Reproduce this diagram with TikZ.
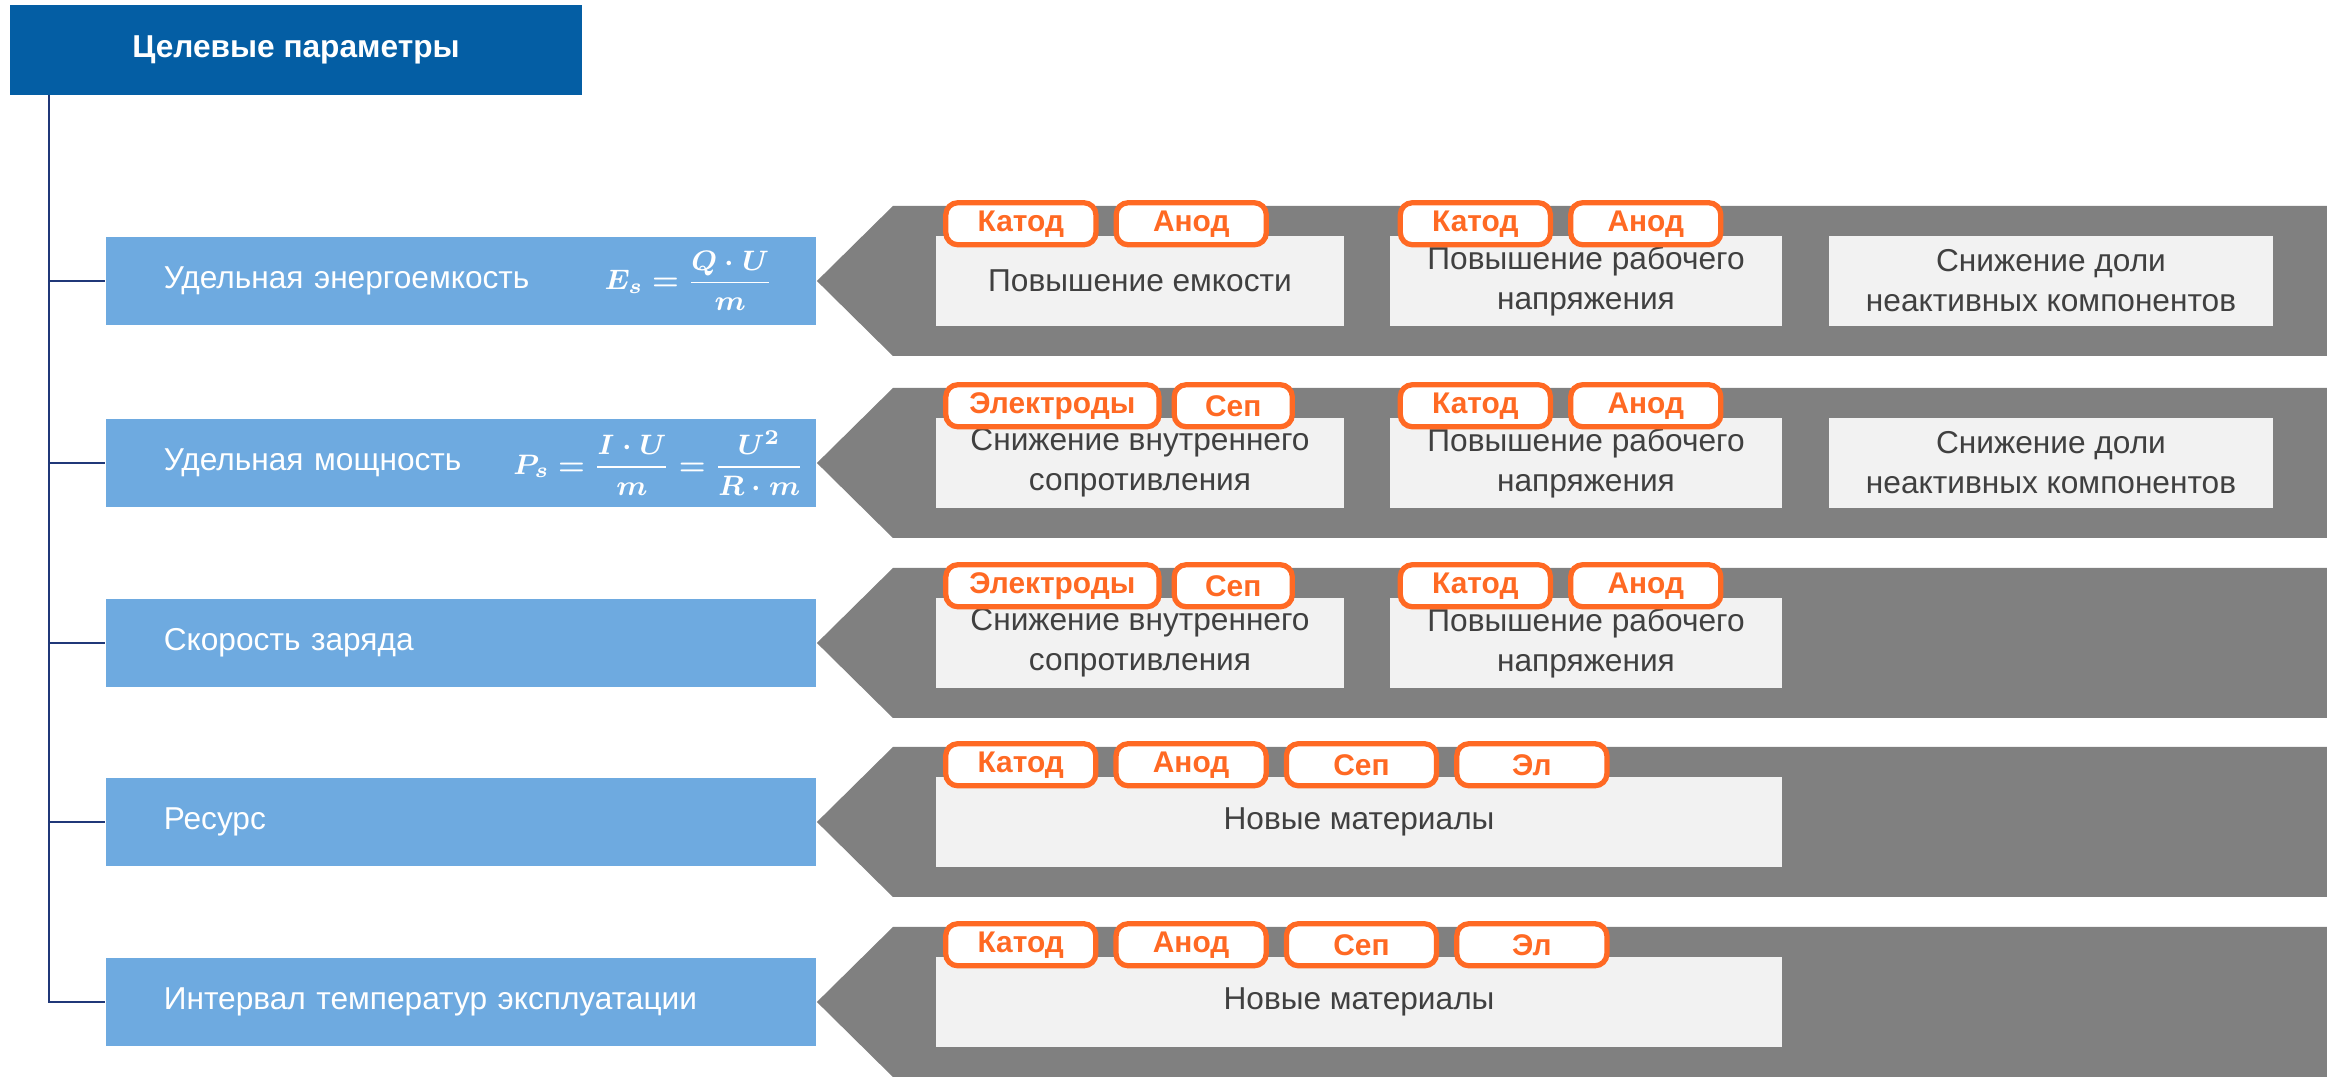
\documentclass[tikz,border=0pt]{standalone}
\usepackage{amsmath}
\usepackage{bm}
\usepackage{fontspec}
\setmainfont{Liberation Sans}
\usepackage{tikz}
\usetikzlibrary{positioning}
\definecolor{headblue}{RGB}{4,94,164}
\definecolor{paramblue}{RGB}{110,170,224}
\definecolor{bandgrey}{RGB}{128,128,128}
\definecolor{goalgrey}{RGB}{242,242,242}
\definecolor{tagorange}{RGB}{255,105,35}
\definecolor{textgrey}{RGB}{64,64,64}
\definecolor{linknavy}{RGB}{32,56,120}
\tikzset{
  head/.style={fill=headblue, text=white, inner sep=0,
    font=\fontsize{9}{11}\selectfont\bfseries,
    minimum width=5.71cm, minimum height=0.89cm},
  param/.style={fill=paramblue, text=white, align=left,
    font=\fontsize{9}{11}\selectfont, inner ysep=0,
    text width=5.94cm, inner xsep=0.58cm, minimum height=0.88cm},
  formula/.style={text=white, inner sep=0, font=\fontsize{8.1}{10}\selectfont},
  link/.style={draw=linknavy, line width=0.6pt},
  band/.style={fill=bandgrey},
  goal/.style={fill=goalgrey, text=textgrey, align=center, inner sep=0,
    font=\fontsize{9}{11.4}\selectfont,
    minimum width=#1, minimum height=0.89cm},
  tag/.style={draw=tagorange, fill=white, line width=1.5pt,
    rounded corners=0.12cm, text=tagorange, inner sep=0,
    font=\fontsize{8.5}{10}\selectfont\bfseries,
    minimum width=1.5cm, minimum height=0.42cm}
}

\begin{document}
\begin{tikzpicture}[x=0.01cm,y=-0.01cm]
    \useasboundingbox (0,0) rectangle (2336,1077);

    % target parameters
    \node[head] (head) at (296,50) {Целевые параметры};
    \node[param] (p1) at (461,281) {Удельная энергоемкость};
    \node[param] (p2) at (461,463) {Удельная мощность};
    \node[param] (p3) at (461,643) {Скорость заряда};
    \node[param] (p4) at (461,822) {Ресурс};
    \node[param] (p5) at (461,1002) {Интервал температур эксплуатации};

    \node[formula] (f1) at ([xshift=-1.28cm]p1.east) {$\bm{E_s=\dfrac{Q\cdot U}{m}}$};
    \node[formula] (f2) at ([xshift=-1.58cm]p2.east) {$\bm{P_s=\dfrac{I\cdot U}{m}=\dfrac{U^2}{R\cdot m}}$};

    \coordinate (trunk) at ([xshift=0.39cm]head.south west);
    \draw[link] (trunk) |- (p1.west);
    \draw[link] (trunk) |- (p2.west);
    \draw[link] (trunk) |- (p3.west);
    \draw[link] (trunk) |- (p4.west);
    \draw[link] (trunk) |- (p5.west);

    % arrows
    \fill[band] (p1.east) -- ++(76,-75) -- ++(1434,0) -- ++(0,150) -- ++(-1434,0) -- cycle;
    \fill[band] (p2.east) -- ++(76,-75) -- ++(1434,0) -- ++(0,150) -- ++(-1434,0) -- cycle;
    \fill[band] (p3.east) -- ++(76,-75) -- ++(1434,0) -- ++(0,150) -- ++(-1434,0) -- cycle;
    \fill[band] (p4.east) -- ++(76,-75) -- ++(1434,0) -- ++(0,150) -- ++(-1434,0) -- cycle;
    \fill[band] (p5.east) -- ++(76,-75) -- ++(1434,0) -- ++(0,150) -- ++(-1434,0) -- cycle;

    % ways
    \node[goal=4.08cm] (g11) at (1140,281) {Повышение емкости};
    \node[goal=3.91cm] (g12) at (1586,281) {Повышение рабочего\\напряжения};
    \node[goal=4.44cm] (g13) at (2051,281) {Снижение доли\\неактивных компонентов};
    \node[goal=4.08cm] (g21) at (1140,463) {Снижение внутреннего\\сопротивления};
    \node[goal=3.91cm] (g22) at (1586,463) {Повышение рабочего\\напряжения};
    \node[goal=4.44cm] (g23) at (2051,463) {Снижение доли\\неактивных компонентов};
    \node[goal=4.08cm] (g31) at (1140,643) {Снижение внутреннего\\сопротивления};
    \node[goal=3.91cm] (g32) at (1586,643) {Повышение рабочего\\напряжения};
    \node[goal=8.46cm] (g41) at (1359,822) {Новые материалы};
    \node[goal=8.46cm] (g51) at (1359,1002) {Новые материалы};

    % components
    \node[tag, anchor=west] (k11) at ([xshift=0.08cm,yshift=0.12cm]g11.north west) {Катод};
    \node[tag, right=0.15cm of k11] (a11) {Анод};
    \node[tag, anchor=west] (k12) at ([xshift=0.08cm,yshift=0.12cm]g12.north west) {Катод};
    \node[tag, right=0.15cm of k12] (a12) {Анод};

    \node[tag, minimum width=2.13cm, anchor=west] (e21) at ([xshift=0.08cm,yshift=0.12cm]g21.north west) {Электроды};
    \node[tag, minimum width=1.18cm, right=0.1cm of e21] (s21) {Сеп};
    \node[tag, anchor=west] (k22) at ([xshift=0.08cm,yshift=0.12cm]g22.north west) {Катод};
    \node[tag, right=0.15cm of k22] (a22) {Анод};

    \node[tag, minimum width=2.13cm, anchor=west] (e31) at ([xshift=0.08cm,yshift=0.12cm]g31.north west) {Электроды};
    \node[tag, minimum width=1.18cm, right=0.1cm of e31] (s31) {Сеп};
    \node[tag, anchor=west] (k32) at ([xshift=0.08cm,yshift=0.12cm]g32.north west) {Катод};
    \node[tag, right=0.15cm of k32] (a32) {Анод};

    \node[tag, anchor=west] (k41) at ([xshift=0.08cm,yshift=0.12cm]g41.north west) {Катод};
    \node[tag, right=0.15cm of k41] (a41) {Анод};
    \node[tag, right=0.15cm of a41] (s41) {Сеп};
    \node[tag, right=0.15cm of s41] (l41) {Эл};

    \node[tag, anchor=west] (k51) at ([xshift=0.08cm,yshift=0.12cm]g51.north west) {Катод};
    \node[tag, right=0.15cm of k51] (a51) {Анод};
    \node[tag, right=0.15cm of a51] (s51) {Сеп};
    \node[tag, right=0.15cm of s51] (l51) {Эл};
\end{tikzpicture}
\end{document}
